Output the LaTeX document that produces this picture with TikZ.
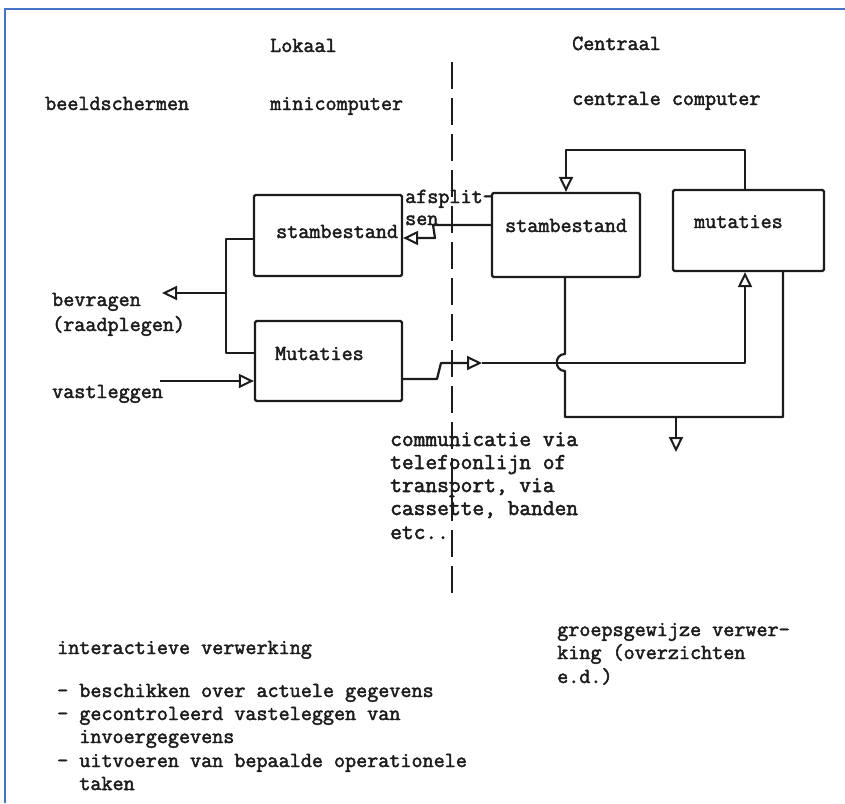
\documentclass[tikz,border=0pt]{standalone}
\usepackage{fontspec}
\newfontfamily\tw[FakeBold=2.2]{Latin Modern Mono}
\usetikzlibrary{arrows.meta}
\definecolor{ink}{RGB}{28,28,28}
\definecolor{frameblue}{RGB}{68,114,196}

\tikzset{
  box/.style={draw=ink, rectangle, rounded corners=1.5pt, inner sep=0pt, line width=2.2pt},
  lbl/.style={inner sep=0pt, anchor=base west, text=ink,
              font=\tw\fontsize{21.5pt}{23.3pt}\selectfont},
  widelbl/.style={lbl, font=\tw\fontsize{22.8pt}{23.3pt}\selectfont},
  wire/.style={draw=ink, line width=2.2pt, line join=round},
  tri/.style={-{Triangle[open,length=15pt,width=14pt,line width=2pt]}},
  divider/.style={draw=ink, line width=2.2pt, dash pattern=on 27pt off 9pt},
}

\begin{document}
\begin{tikzpicture}[x=1pt,y=-1pt]
\useasboundingbox (0,0) rectangle (845,803);

% frame edges
\draw[frameblue, line width=2.5pt] (5,803) -- (5,9) -- (845,9);

% local / central divider
\coordinate (divtop) at (452,62);
\coordinate (divbot) at (452,600);
\draw[divider] (divtop) -- (divbot);

% headings
\node[lbl] (hlok) at (270,52) {Lokaal};
\node[lbl] (hcen) at (572,50) {Centraal};
\node[lbl] (hscr) at (45,110) {beeldschermen};
\node[lbl] (hmini) at (270,110) {minicomputer};
\node[lbl] (hcc) at (572,105) {centrale computer};

% files
\node[box, minimum width=148pt, minimum height=81pt] (lstam) at (328,235.5) {};
\node[box, minimum width=147pt, minimum height=80pt] (lmut) at (328.5,361) {};
\node[box, minimum width=148pt, minimum height=84pt] (cstam) at (566,235) {};
\node[box, minimum width=151pt, minimum height=81pt] (cmut) at (748.5,230.5) {};

\node[lbl] (tlstam) at (276,238) {stambestand};
\node[lbl] (tlmut) at (275,360) {Mutaties};
\node[lbl] (tcstam) at (505,232) {stambestand};
\node[lbl] (tcmut) at (694,228) {mutaties};

% side labels
\node[lbl] (tafs1) at (405,203) {afsplit-};
\node[lbl] (tafs2) at (405,225) {sen};
\node[lbl] (tbev1) at (52,306) {bevragen};
\node[lbl] (tbev2) at (52,331) {(raadplegen)};
\node[lbl] (tvast) at (52,398) {vastleggen};

% communication note
\node[widelbl] (tcom1) at (390,446) {communicatie via};
\node[widelbl] (tcom2) at (390,469) {telefoonlijn of};
\node[widelbl] (tcom3) at (390,492) {transport, via};
\node[widelbl] (tcom4) at (390,515) {cassette, banden};
\node[widelbl] (tcom5) at (390,539) {etc..};

% bottom notes
\node[lbl] (tint) at (57,654) {interactieve verwerking};
\node[lbl] (tin1) at (57,697) {- beschikken over actuele gegevens};
\node[lbl] (tin2) at (57,720) {- gecontroleerd vasteleggen van};
\node[lbl] (tin3) at (57,743) {\ \ invoergegevens};
\node[lbl] (tin4) at (57,767) {- uitvoeren van bepaalde operationele};
\node[lbl] (tin5) at (57,790) {\ \ taken};

\node[lbl] (tgr1) at (557,636) {groepsgewijze verwer-};
\node[lbl] (tgr2) at (557,659) {king (overzichten};
\node[lbl] (tgr3) at (557,683) {e.d.)};

% connectors, central side
\draw[wire, tri] (cmut.north -| 745,0) -- (745,150) -- (566,150) -- (cstam.north -| 566,0);
\draw[wire, tri] (cstam.west |- 0,225) -- (433,225) -- (435,238) -- (lstam.east |- 0,238);

\coordinate (relay) at (482,363);
\draw[wire, tri] (lmut.east |- 0,379) -- (437,379) -- (441,363) -- (relay);
\draw[wire, tri] (relay) -- (745,363) -- (cmut.south -| 745,0);

\draw[wire] (cstam.south -| 565,0) -- (565,354)
  .. controls (554,354) and (554,371) .. (565,371)
  -- (565,417) -- (783,417) -- (cmut.south -| 783,0);
\coordinate (outtop) at (676,417);
\coordinate (outend) at (676,452);
\draw[wire, tri] (outtop) -- (outend);

% connectors, local side
\draw[wire] (lstam.west |- 0,239) -- (226,239) -- (226,353) -- (lmut.west |- 0,353);
\coordinate (askfork) at (226,293);
\coordinate (askend) at (162,293);
\draw[wire, tri] (askfork) -- (askend);
\coordinate (inbeg) at (160,381);
\draw[wire, tri] (inbeg) -- (lmut.west |- 0,381);
\end{tikzpicture}
\end{document}
